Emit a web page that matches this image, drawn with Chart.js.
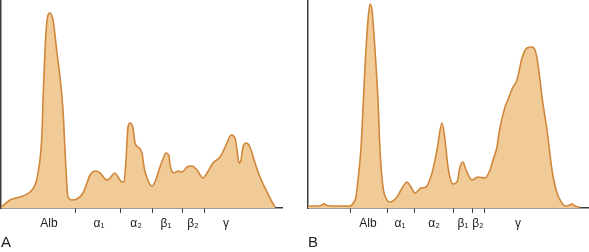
<!DOCTYPE html>
<html>

<head>
    <title>Serum protein electrophoresis</title>
    <script src="https://cdn.jsdelivr.net/npm/chart.js"></script>
    <style>
        body { margin: 0; background: #fff; }
        .panel { position: absolute; top: 0; }
    </style>
</head>

<body>

    <canvas id="chartA" class="panel" width="295" height="252" style="left:0px"></canvas>
    <canvas id="chartB" class="panel" width="294" height="252" style="left:295px"></canvas>

    <script>
        // relative mobility (0 = application point side) and density
        const mobilityA = [0, 1, 9, 19, 29, 34, 37, 41, 42, 44, 46, 49, 52, 56, 59, 62, 64, 66, 67, 71, 76, 82, 86, 89, 95, 99,
            106, 109, 114, 117, 121, 123, 125, 127, 129, 132, 134, 137, 141, 143, 146, 151, 154, 159, 162, 165, 168, 169,
            173, 177, 181, 186, 191, 196, 202, 206, 212, 219, 226, 230, 234, 236, 238, 240, 242, 245, 249, 254, 259, 266, 271, 274];
        const densityA = [1, 1.5, 8, 11, 16, 23, 35, 75, 108, 158, 188, 195, 188, 155, 131, 98, 58, 21, 11, 8, 9, 15, 25, 33, 37, 35,
            28, 30, 35, 31, 26, 26, 48, 81, 85, 80, 65, 61, 55, 41, 30, 22, 26, 41, 49, 55, 52, 43,
            35, 37, 36, 41, 42, 38, 30, 35, 45, 51, 65, 73, 70, 58, 45, 48, 61, 65, 61, 45, 31, 16, 6, 1];

        const mobilityB = [0, 10, 14, 16, 18, 24, 42, 46, 48, 50, 53, 55, 57, 60, 62, 64, 67, 70, 72, 75, 79, 82, 89, 93, 99,
            103, 107, 113, 118, 124, 129, 134, 137, 140, 145, 149, 152, 155, 158, 164, 170, 177, 182, 185, 189, 191, 197, 199,
            205, 209, 214, 219, 224, 227, 229, 232, 234, 239, 244, 249, 254, 257, 262, 264, 267, 272];
        const densityB = [2, 2, 3, 4.5, 3, 2, 2, 6, 11, 28, 60, 100, 141, 188, 204, 198, 158, 108, 58, 21, 8, 6, 11, 18, 26,
            21, 15, 20, 21, 35, 58, 85, 68, 41, 24, 26, 41, 46, 38, 28, 31, 30, 38, 48, 61, 75, 101, 106,
            121, 128, 150, 160, 161, 158, 150, 128, 111, 78, 38, 15, 5, 2, 3, 4, 2, 0.5];

        // fraction names, label centres and the boundary tick marks between them
        const fractionNames = ['Alb', 'α₁', 'α₂', 'β₁', 'β₂', 'γ'];
        const labelPosA = [48, 98, 135, 165, 192, 225];
        const boundsA = [75, 119, 151, 181, 203];
        const labelPosB = [60, 92, 126, 155, 170, 210];
        const boundsB = [42, 79, 106, 145, 164, 176];

        Chart.defaults.font.family = '"Liberation Sans", Arial, sans-serif';

        const fillColor = '#f0cb98';
        const lineColor = '#d0873a';
        const axisColor = '#3c3c3c';

        function makeChart(id, mobility, density, labelPos, bounds, panelName, pad) {
            const points = mobility.map((m, i) => ({ x: m, y: density[i] }));
            return new Chart(document.getElementById(id), {
                type: 'line',
                data: {
                    datasets: [{
                        data: points,
                        fill: 'origin',
                        backgroundColor: fillColor,
                        borderColor: lineColor,
                        borderWidth: 1.6,
                        pointRadius: 0,
                        cubicInterpolationMode: 'monotone'
                    }]
                },
                options: {
                    responsive: false,
                    animation: false,
                    layout: { padding: pad },
                    plugins: { legend: { display: false }, tooltip: { enabled: false } },
                    scales: {
                        x: {
                            type: 'linear',
                            min: 0,
                            max: 281,
                            afterBuildTicks: function (scale) {
                                const vals = bounds.concat(labelPos).sort((a, b) => a - b);
                                scale.ticks = vals.map(v => ({ value: v }));
                            },
                            ticks: {
                                autoSkip: false,
                                maxRotation: 0,
                                padding: 3,
                                color: '#222',
                                font: { size: 12 },
                                callback: function (value) {
                                    const k = labelPos.indexOf(value);
                                    return k >= 0 ? fractionNames[k] : '';
                                }
                            },
                            grid: {
                                drawOnChartArea: false,
                                drawTicks: true,
                                tickLength: 5,
                                lineWidth: 1,
                                color: function (ctx) {
                                    return ctx.tick && bounds.includes(ctx.tick.value) ? axisColor : 'rgba(0,0,0,0)';
                                }
                            },
                            border: { display: true, color: axisColor, width: 1.5 },
                            title: {
                                display: true,
                                text: panelName,
                                align: 'start',
                                color: '#222',
                                font: { size: 15, lineHeight: 1.2 },
                                padding: { top: 0.6, bottom: 0 }
                            }
                        },
                        y: {
                            min: 0,
                            max: 208,
                            ticks: { display: false },
                            grid: { display: false, drawTicks: false },
                            border: { display: true, color: axisColor, width: 1.5 }
                        }
                    }
                }
            });
        }

        makeChart('chartA', mobilityA, densityA, labelPosA, boundsA, 'A', { left: 1, right: 13, top: 0, bottom: 0 });
        makeChart('chartB', mobilityB, densityB, labelPosB, boundsB, 'B', { left: 13, right: 0, top: 0, bottom: 0 });
    </script>

</body>

</html>
